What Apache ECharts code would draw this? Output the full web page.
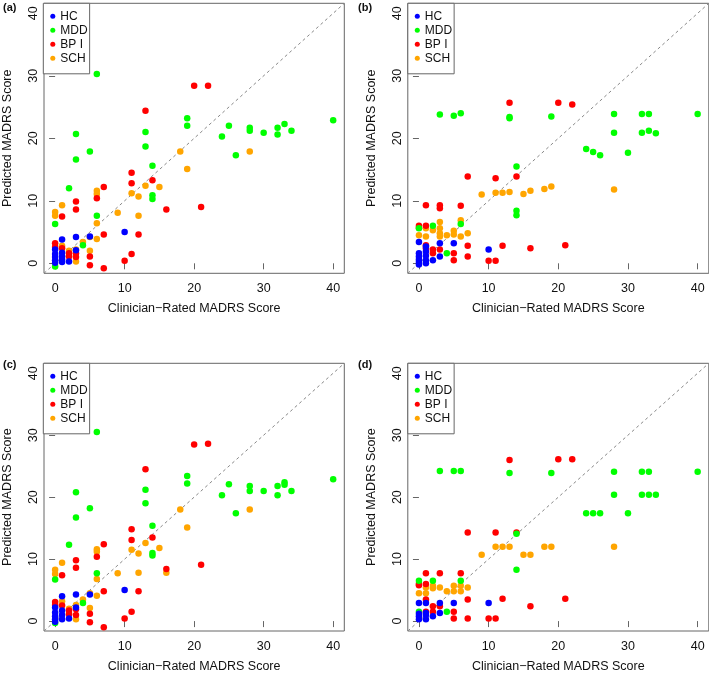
<!DOCTYPE html>
<html>
<head>
<meta charset="utf-8">
<script src="https://cdn.jsdelivr.net/npm/echarts@6/dist/echarts.min.js"></script>
<style>
html,body{margin:0;padding:0;background:#fff;}
#chart{width:709px;height:674px;}
</style>
</head>
<body>
<div id="chart"></div>
<script>
// ---------- data ----------
const groupNames = ['HC', 'MDD', 'BP I', 'SCH'];
const groupColors = ['#0000FF', '#00FF00', '#FF0000', '#FFA500'];
const panelLabels = ['(a)', '(b)', '(c)', '(d)'];
const tickValues = [0, 10, 20, 30, 40];
const axisMin = -1.6, axisMax = 41.6;
const xTitle = 'Clinician\u2212Rated MADRS Score';
const yTitle = 'Predicted MADRS Score';

// Panel (a)
const aHC = [[0,2.2],[0,1.5],[0,1.0],[0,0.5],[0,0.1],[1,3.8],[1,1.7],[1,1.1],[1,0.6],[1,0.2],[2,0.3],[3,4.2],[3,2.1],[5,4.3],[10,5.0]];
const aMDD = [[0,6.3],[0,-0.5],[2,12.0],[3,20.7],[3,16.6],[4,2.9],[5,17.9],[6,30.3],[6,7.6],[13,21.0],[13,18.7],[14,15.6],[14,10.9],[14,10.3],[19,23.2],[19,22.0],[24,20.3],[25,22.0],[26,17.3],[28,21.7],[28,21.2],[30,20.9],[32,21.7],[32,20.6],[33,22.3],[34,21.2],[40,22.9]];
const aBP = [[0,3.2],[0,2.6],[1,7.5],[1,2.4],[2,1.6],[2,1.1],[3,9.9],[3,8.6],[3,1.6],[3,1.0],[5,1.1],[5,-0.3],[6,10.4],[7,12.2],[7,4.6],[7,-0.8],[10,0.4],[11,14.5],[11,12.8],[11,1.5],[12,4.6],[13,24.4],[14,13.3],[16,8.6],[20,28.4],[21,9.0],[22,28.4]];
const aSCH = [[0,8.2],[0,7.6],[1,9.3],[1,2.8],[2,2.0],[2,1.2],[3,2.2],[3,0.3],[4,3.4],[5,4.2],[5,2.0],[6,11.6],[6,11.1],[6,6.4],[6,3.9],[9,8.1],[11,11.2],[12,10.7],[12,7.6],[13,12.4],[15,12.2],[18,17.9],[19,15.1],[28,17.9]];

// Panel (b)
const bHC = [[0,3.4],[0,1.6],[0,1.1],[0,0.6],[0,0.2],[0,-0.2],[1,2.7],[1,1.9],[1,1.2],[1,0.5],[1,0.0],[2,0.5],[3,3.2],[3,1.1],[5,3.2],[10,2.2]];
const bMDD = [[0,5.6],[2,6.0],[3,23.8],[4,1.6],[5,23.6],[6,24.0],[6,6.3],[13,23.4],[13,23.2],[14,15.5],[14,8.4],[14,7.7],[19,23.5],[24,18.3],[25,17.8],[26,17.3],[28,23.9],[28,20.9],[30,17.7],[32,23.9],[32,20.9],[33,23.9],[33,21.2],[34,20.8],[40,23.9]];
const bBP = [[0,6.0],[0,5.7],[1,9.3],[1,6.0],[1,2.9],[1,2.4],[2,2.2],[2,1.6],[3,9.3],[3,8.8],[3,2.2],[5,1.6],[5,0.5],[6,9.2],[7,13.9],[7,2.8],[7,1.1],[10,0.4],[11,13.6],[11,0.4],[12,2.8],[13,25.7],[14,13.9],[16,2.4],[20,25.7],[21,2.9],[22,25.4]];
const bSCH = [[0,4.5],[1,5.6],[1,4.3],[2,5.3],[3,6.6],[3,5.6],[3,4.8],[3,4.3],[4,4.5],[5,5.2],[5,4.6],[6,6.9],[6,4.3],[7,4.8],[9,11.0],[11,11.3],[12,11.3],[13,11.4],[15,11.1],[16,11.6],[18,11.9],[19,12.3],[28,11.8]];

// Panel (c)
const cHC = [[0,2.2],[0,1.4],[0,0.8],[0,0.3],[0,-0.1],[1,4.0],[1,1.7],[1,1.0],[1,0.3],[2,0.4],[3,4.3],[3,2.2],[5,4.3],[10,5.0]];
const cMDD = [[0,6.7],[0,-0.3],[2,12.3],[3,20.8],[3,16.7],[4,2.9],[5,18.2],[6,30.5],[6,7.7],[13,21.2],[13,19.0],[14,15.4],[14,11.0],[14,10.6],[19,23.4],[19,22.2],[24,20.3],[25,22.1],[26,17.4],[28,21.8],[28,21.0],[30,21.0],[32,21.8],[32,20.3],[33,22.4],[33,22.0],[34,21.0],[40,22.9]];
const cBP = [[0,3.1],[0,2.6],[1,7.4],[1,2.5],[2,1.7],[2,1.1],[3,9.8],[3,8.6],[3,1.9],[3,1.0],[5,1.2],[5,-0.2],[6,10.4],[7,12.4],[7,4.8],[7,-1.0],[10,0.4],[11,14.8],[11,13.1],[11,1.5],[12,4.8],[13,24.5],[14,13.5],[16,8.4],[20,28.5],[21,9.1],[22,28.6]];
const cSCH = [[0,8.3],[0,7.6],[1,9.4],[1,3.2],[2,2.0],[2,1.3],[3,2.6],[3,0.3],[4,3.5],[5,4.5],[5,2.1],[6,11.6],[6,11.2],[6,6.8],[6,4.1],[9,7.7],[11,11.5],[12,10.9],[12,7.8],[13,12.6],[15,11.8],[16,7.8],[18,18.0],[19,15.1],[28,18.0]];

// Panel (d)
const dHC = [[0,2.9],[0,1.2],[0,0.8],[0,0.3],[1,2.9],[1,1.3],[1,1.0],[1,0.3],[2,0.8],[3,2.9],[3,1.3],[5,2.9],[10,2.9]];
const dMDD = [[0,6.5],[0,1.5],[2,6.5],[3,24.2],[4,1.5],[5,24.2],[6,24.2],[6,6.5],[13,23.9],[14,14.1],[14,8.3],[19,23.9],[24,17.4],[25,17.4],[26,17.4],[28,24.1],[28,20.4],[30,17.4],[32,24.1],[32,20.4],[33,24.1],[33,20.4],[34,20.4],[40,24.1]];
const dBP = [[0,6.0],[0,5.8],[1,7.7],[1,6.0],[1,3.5],[1,1.5],[2,2.4],[2,1.5],[3,7.7],[3,2.4],[5,1.5],[5,0.4],[6,7.7],[7,14.3],[7,3.5],[7,0.4],[10,0.4],[11,14.3],[11,0.4],[12,3.6],[13,26.0],[14,14.3],[16,2.4],[20,26.1],[21,3.6],[22,26.1]];
const dSCH = [[0,4.5],[1,5.4],[1,4.5],[2,5.7],[2,5.3],[3,5.4],[4,4.8],[5,5.7],[5,4.8],[6,5.7],[6,4.8],[7,5.4],[9,10.7],[11,12.0],[12,12.0],[13,12.0],[15,10.7],[16,10.7],[18,12.0],[19,12.0],[28,12.0]];

const panels = [
  [aHC, aMDD, aBP, aSCH],
  [bHC, bMDD, bBP, bSCH],
  [cHC, cMDD, cBP, cSCH],
  [dHC, dMDD, dBP, dSCH]
];

// ---------- layout ----------
const FONT = '"Liberation Sans", Arial, Helvetica, sans-serif';
const gridPos = [
  {left: 43.3, top: 3.3},
  {left: 407.8, top: 3.3},
  {left: 43.3, top: 363.3},
  {left: 407.8, top: 363.3}
];
const GW = 301, GH = 270;
const labelPos = [[3, 2], [358, 2], [3, 359], [358, 359]];

const grids = [], xAxes = [], yAxes = [], series = [], legends = [], graphics = [];
const drawOrder = [3, 2, 1, 0];

panels.forEach((groups, p) => {
  grids.push({
    left: gridPos[p].left, top: gridPos[p].top, width: GW, height: GH,
    show: true, borderColor: '#666', borderWidth: 1, backgroundColor: 'transparent'
  });
  xAxes.push({
    type: 'value', gridIndex: p, min: axisMin, max: axisMax,
    axisLine: {show: false}, splitLine: {show: false},
    axisTick: {show: true, customValues: tickValues, length: 6, lineStyle: {color: '#666'}},
    axisLabel: {customValues: tickValues, margin: 9, fontSize: 12.5, color: '#111', fontFamily: FONT},
    name: xTitle, nameLocation: 'middle', nameGap: 29,
    nameTextStyle: {fontSize: 12.5, color: '#111', fontFamily: FONT}
  });
  yAxes.push({
    type: 'value', gridIndex: p, min: axisMin, max: axisMax,
    axisLine: {show: false}, splitLine: {show: false},
    axisTick: {show: true, customValues: tickValues, length: 6, lineStyle: {color: '#666'}},
    axisLabel: {customValues: tickValues, margin: 4, rotate: 90, fontSize: 12.5, color: '#111', fontFamily: FONT},
    name: yTitle, nameLocation: 'middle', nameGap: 30,
    nameTextStyle: {fontSize: 12.5, color: '#111', fontFamily: FONT}
  });
  series.push({
    type: 'line', xAxisIndex: p, yAxisIndex: p, silent: true, symbol: 'none', z: 1,
    data: [[axisMin, axisMin], [axisMax, axisMax]],
    lineStyle: {color: '#888', width: 1, type: [3, 3]}
  });
  drawOrder.forEach(g => {
    series.push({
      type: 'scatter', name: groupNames[g], xAxisIndex: p, yAxisIndex: p,
      data: groups[g], symbolSize: 6.5, z: 2,
      itemStyle: {color: groupColors[g], opacity: 1}
    });
  });
  legends.push({
    left: gridPos[p].left, top: gridPos[p].top, orient: 'vertical',
    data: groupNames, icon: 'circle', itemWidth: 5, itemHeight: 5, itemGap: 2,
    padding: [7, 2, 9.5, 7], borderColor: '#666', borderWidth: 1,
    selectedMode: false, backgroundColor: '#fff',
    textStyle: {fontSize: 12, color: '#111', fontFamily: FONT}
  });
  graphics.push({
    type: 'text', left: labelPos[p][0], top: labelPos[p][1],
    style: {text: panelLabels[p], font: 'bold 11px ' + FONT, fill: '#111'}
  });
});

const chart = echarts.init(document.getElementById('chart'), null, {renderer: 'canvas'});
chart.setOption({
  animation: false,
  backgroundColor: '#fff',
  grid: grids, xAxis: xAxes, yAxis: yAxes,
  legend: legends, series: series, graphic: graphics
});
</script>
</body>
</html>
